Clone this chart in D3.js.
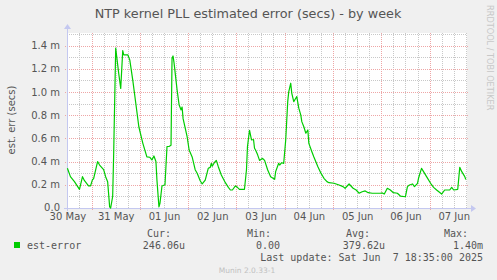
<!DOCTYPE html>
<html>
<head>
<meta charset="utf-8">
<script src="https://cdn.jsdelivr.net/npm/d3@7"></script>
<style>
  body { margin: 0; background: #f0f0f0; }
  svg { display: block; }
  text { fill: #555; }
</style>
</head>
<body>
<svg id="chart" width="497" height="280"></svg>
<script>
// hours since 30 May 2025 00:00 and est. error in milliseconds
const hours = [12, 13.5, 15.5, 18, 19.5, 20.5, 22.5, 23.5, 24.5, 25, 27, 28, 30, 31, 32, 33, 33.5, 34.5, 35,
  36, 37.5, 38.5, 39.5, 40, 41, 42, 43, 44.5, 46, 47.5, 49.5, 51.5, 53, 54, 55, 56, 56.5, 57.5, 58,
  59, 60.5, 61.5, 62.5, 63.5, 64, 64.5, 65, 66.5, 67.5, 68.5, 69, 69.5, 71.5, 72.5, 74, 75.5, 76.5,
  78, 79, 80.5, 82, 83, 83.5, 84, 85, 86, 87, 88.5, 90.5, 92, 93, 94, 95.5, 96.5, 97.5, 100, 101,
  101.5, 102.5, 103.5, 104.5, 105, 105.5, 106.5, 107.5, 109, 110, 111.5, 113, 115, 115.5, 117, 117.5,
  118.5, 119.5, 120.5, 121.5, 122, 123, 123.5, 124.5, 125.5, 126, 127, 128, 128.5, 129.5, 130.5,
  131.5, 132, 133.5, 134.5, 136.5, 138, 139.5, 141, 142, 144.5, 147, 149, 150, 152, 154, 155.5, 157,
  158.5, 160, 161.5, 163.5, 166, 167.5, 168.5, 169.5, 171, 172.5, 174, 176, 177.5, 180, 181, 182,
  183.5, 184.5, 186, 186.5, 188, 189, 190.5, 192.5, 194, 195.5, 198, 199.5, 202, 203, 204, 206, 207,
  208, 209.5, 210];
const estError = [0.342, 0.27, 0.227, 0.161, 0.27, 0.235, 0.19, 0.19, 0.247, 0.25, 0.40, 0.37, 0.33, 0.27,
  0.227, 0.01, 0.0, 0.1, 0.47, 1.377, 1.16, 1.03, 1.356, 1.32, 1.32, 1.32, 1.276, 1.10, 0.90, 0.70,
  0.557, 0.44, 0.437, 0.414, 0.448, 0.40, 0.24, 0.01, 0.04, 0.19, 0.2, 0.53, 0.53, 0.54, 1.29, 1.31,
  1.25, 1.02, 0.89, 0.845, 0.87, 0.77, 0.615, 0.50, 0.44, 0.33, 0.30, 0.235, 0.207, 0.24, 0.342,
  0.35, 0.385, 0.36, 0.39, 0.41, 0.356, 0.284, 0.218, 0.178, 0.155, 0.155, 0.19, 0.178, 0.161,
  0.161, 0.33, 0.53, 0.67, 0.586, 0.59, 0.515, 0.5, 0.46, 0.41, 0.428, 0.41, 0.33, 0.27, 0.247,
  0.313, 0.385, 0.37, 0.39, 0.385, 0.586, 0.916, 1.0, 1.075, 0.99, 0.916, 0.945, 0.96, 0.86, 0.80,
  0.744, 0.70, 0.644, 0.672, 0.557, 0.485, 0.44, 0.356, 0.30, 0.256, 0.227, 0.218, 0.213, 0.198,
  0.184, 0.17, 0.207, 0.17, 0.155, 0.127, 0.14, 0.147, 0.132, 0.127, 0.127, 0.127, 0.13, 0.12,
  0.17, 0.155, 0.132, 0.127, 0.103, 0.097, 0.184, 0.198, 0.207, 0.184, 0.213, 0.256, 0.342, 0.313,
  0.27, 0.213, 0.178, 0.155, 0.12, 0.155, 0.155, 0.178, 0.155, 0.161, 0.35, 0.313, 0.27, 0.246];

const yTicks = [0, 0.2, 0.4, 0.6, 0.8, 1.0, 1.2, 1.4];
const yTickLabels = ["0.0", "0.2 m", "0.4 m", "0.6 m", "0.8 m", "1.0 m", "1.2 m", "1.4 m"];
const dayLabels = ["30 May", "31 May", "01 Jun", "02 Jun", "03 Jun", "04 Jun", "05 Jun", "06 Jun", "07 Jun"];
const legendHeads = ["Cur:", "Min:", "Avg:", "Max:"];
const legendValues = ["246.06u", "0.00", "379.62u", "1.40m"];

const base = Date.UTC(2025, 4, 30);
const toDate = h => new Date(base + h * 3600e3);
const data = hours.map((h, i) => ({ t: toDate(h), v: estError[i] }));

const W = 497, H = 280;
const pLeft = 67, pRight = 467, pTop = 33, pBottom = 208;

const x = d3.scaleUtc()
  .domain([toDate(11.8), toDate(210.6)])
  .range([pLeft, pRight]);
const y = d3.scaleLinear()
  .domain([0, 1.5077])
  .range([pBottom, pTop]);

const svg = d3.select("#chart");
svg.append("rect").attr("width", W).attr("height", H).attr("fill", "#f0f0f0");
svg.append("rect").attr("x", pLeft).attr("y", pTop)
  .attr("width", pRight - pLeft).attr("height", pBottom - pTop).attr("fill", "#fff");

// minor grid
const grid = svg.append("g").attr("shape-rendering", "crispEdges");
const minorY = d3.range(0.1, 1.55, 0.2);
grid.selectAll(".hmin").data(minorY).enter().append("line")
  .attr("x1", pLeft).attr("x2", pRight)
  .attr("y1", d => Math.round(y(d)) + 0.5).attr("y2", d => Math.round(y(d)) + 0.5)
  .attr("stroke", "#c8c8c8").attr("stroke-dasharray", "1,1");
const minorX = d3.utcHour.every(6).range(x.domain()[0], x.domain()[1])
  .filter(d => d.getUTCHours() !== 0);
grid.selectAll(".vmin").data(minorX).enter().append("line")
  .attr("y1", pTop).attr("y2", pBottom)
  .attr("x1", d => Math.round(x(d)) + 0.5).attr("x2", d => Math.round(x(d)) + 0.5)
  .attr("stroke", "#c8c8c8").attr("stroke-dasharray", "1,1");

// major grid
grid.selectAll(".hmaj").data(yTicks.slice(1)).enter().append("line")
  .attr("x1", pLeft - 2).attr("x2", pRight + 2)
  .attr("y1", d => Math.round(y(d)) + 0.5).attr("y2", d => Math.round(y(d)) + 0.5)
  .attr("stroke", "#eea6a6").attr("stroke-dasharray", "1,1");
const majorX = d3.utcDay.range(x.domain()[0], x.domain()[1]);
grid.selectAll(".vmaj").data(majorX).enter().append("line")
  .attr("y1", pTop).attr("y2", pBottom + 2)
  .attr("x1", d => Math.round(x(d)) + 0.5).attr("x2", d => Math.round(x(d)) + 0.5)
  .attr("stroke", "#eea6a6").attr("stroke-dasharray", "1,1");

// axes lines with arrows
const axisCol = "#c4c8f0";
svg.append("line").attr("x1", pLeft - 3).attr("x2", pRight + 4)
  .attr("y1", pBottom + 0.5).attr("y2", pBottom + 0.5).attr("stroke", axisCol);
svg.append("path").attr("d", `M${pRight + 4},${pBottom - 3}L${pRight + 9},${pBottom + 0.5}L${pRight + 4},${pBottom + 4}Z`)
  .attr("fill", axisCol);
svg.append("line").attr("x1", pLeft + 0.5).attr("x2", pLeft + 0.5)
  .attr("y1", pBottom + 3).attr("y2", pTop - 4).attr("stroke", axisCol);
svg.append("path").attr("d", `M${pLeft - 3},${pTop - 4}L${pLeft + 0.5},${pTop - 9}L${pLeft + 4},${pTop - 4}Z`)
  .attr("fill", axisCol);

// y axis labels
const yAxis = d3.axisLeft(y).tickValues(yTicks).tickSize(0).tickPadding(7)
  .tickFormat((d, i) => yTickLabels[i]);
const gy = svg.append("g").attr("transform", `translate(${pLeft},0)`).call(yAxis);
gy.select(".domain").remove();
gy.selectAll("text").attr("font-family", "DejaVu Sans").attr("font-size", 10).attr("fill", "#555");
gy.selectAll("text").filter(d => d === 0).attr("dy", "0.2em");

// x axis labels at noon
const labelDates = dayLabels.map((d, i) => toDate(12 + 24 * i));
const xAxis = d3.axisBottom(x).tickValues(labelDates).tickSize(0).tickPadding(5)
  .tickFormat((d, i) => dayLabels[i]);
const gx = svg.append("g").attr("transform", `translate(0,${pBottom})`).call(xAxis);
gx.select(".domain").remove();
gx.selectAll("text").attr("font-family", "DejaVu Sans").attr("font-size", 10).attr("fill", "#555");

// line
const line = d3.line().x(d => x(d.t)).y(d => y(d.v));
svg.append("path").datum(data).attr("d", line)
  .attr("fill", "none").attr("stroke", "#00cc00").attr("stroke-width", 1.2)
  .attr("stroke-linejoin", "round");

// title
svg.append("text").attr("x", 248).attr("y", 18).attr("text-anchor", "middle")
  .attr("font-family", "DejaVu Sans").attr("font-size", 12.8)
  .text("NTP kernel PLL estimated error (secs) - by week");

// y label
svg.append("text").attr("transform", "translate(15,120) rotate(-90)")
  .attr("text-anchor", "middle").attr("font-family", "DejaVu Sans").attr("font-size", 10)
  .text("est. err (secs)");

// side watermark
svg.append("text").attr("transform", "translate(486.5,5) rotate(90)")
  .attr("font-family", "DejaVu Sans").attr("font-size", 8.2).style("fill", "#c8c8c8")
  .text("RRDTOOL / TOBI OETIKER");

// legend
const mono = "DejaVu Sans Mono";
svg.append("rect").attr("x", 14).attr("y", 242).attr("width", 6).attr("height", 6).attr("fill", "#00cc00");
svg.append("text").attr("x", 27).attr("y", 249).attr("font-family", mono).attr("font-size", 10).text("est-error");
const headX = [171, 271, 370, 468];
const valX = [185, 280, 385, 483];
svg.selectAll(".lh").data(legendHeads).enter().append("text")
  .attr("x", (d, i) => headX[i]).attr("y", 237).attr("text-anchor", "end")
  .attr("font-family", mono).attr("font-size", 10).text(d => d);
svg.selectAll(".lv").data(legendValues).enter().append("text")
  .attr("x", (d, i) => valX[i]).attr("y", 249).attr("text-anchor", "end")
  .attr("font-family", mono).attr("font-size", 10).text(d => d);
svg.append("text").attr("x", 483).attr("y", 261).attr("text-anchor", "end")
  .attr("font-family", mono).attr("font-size", 10).attr("xml:space", "preserve")
  .style("white-space", "pre")
  .text("Last update: Sat Jun  7 18:35:00 2025");
svg.append("text").attr("x", 247).attr("y", 273).attr("text-anchor", "middle")
  .attr("font-family", "DejaVu Sans").attr("font-size", 7.5).style("fill", "#c0c0c0")
  .text("Munin 2.0.33-1");
</script>
</body>
</html>
